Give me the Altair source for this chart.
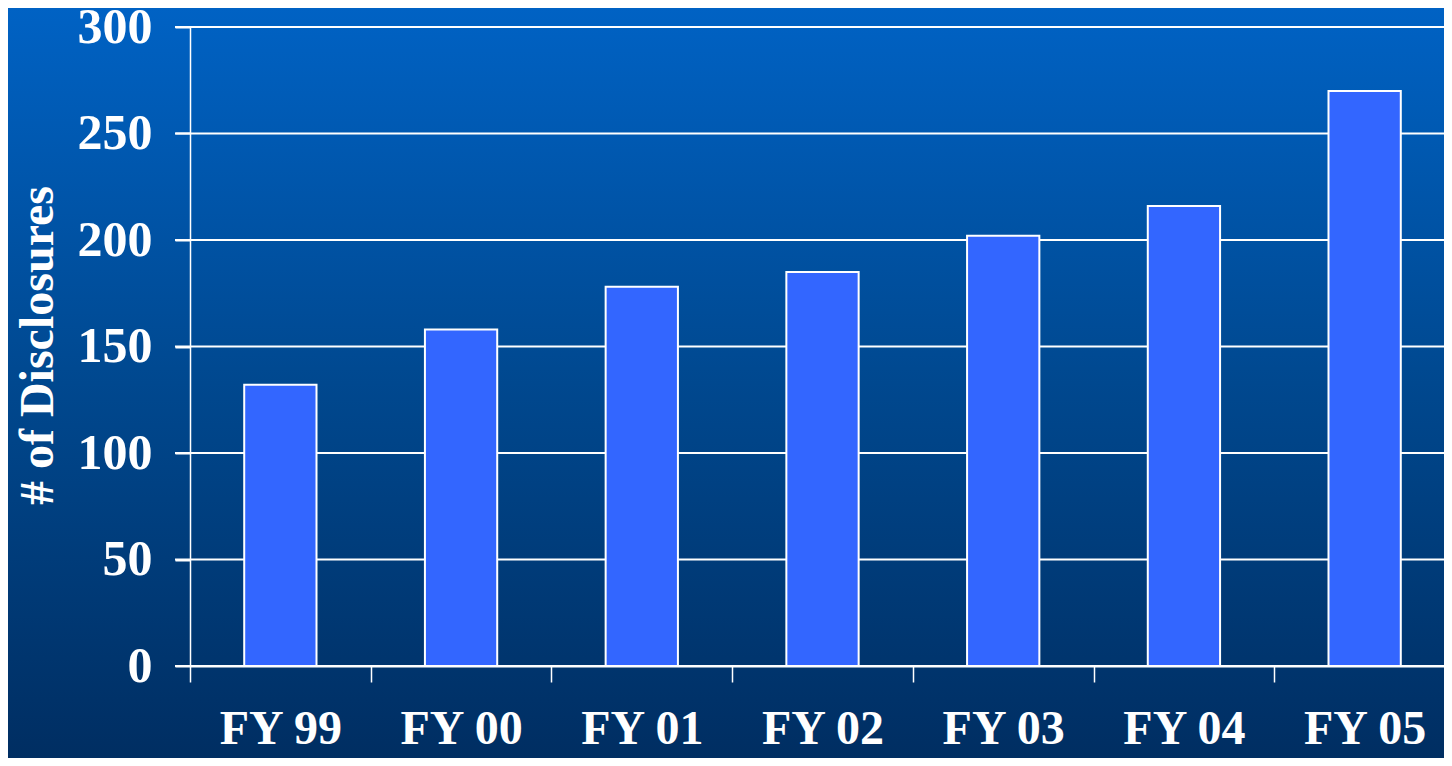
import altair as alt
import pandas as pd

# ---- data ----
categories = ["FY 99", "FY 00", "FY 01", "FY 02", "FY 03", "FY 04", "FY 05"]
disclosures = [132, 158, 178, 185, 202, 216, 270]
y_ticks = [0, 50, 100, 150, 200, 250, 300]

# ---- layout ----
PLOT_W = 1254
PLOT_H = 639
LEFT = 182
TOP = 19
BOTTOM = 92
BAND_RANGE = 1265

FONT = "Liberation Serif"

bars_df = pd.DataFrame({"year": categories, "count": disclosures})
grid_df = pd.DataFrame({"count": y_ticks})
bg_df = pd.DataFrame({"k": [0]})

yscale = alt.Scale(domain=[0, 300], nice=False, zero=True)
yaxis = alt.Axis(
    values=y_ticks,
    grid=False,
    title="# of Disclosures",
    titleFont=FONT,
    titleFontSize=48,
    titleFontWeight="bold",
    titleColor="white",
    titleAngle=270,
    titleX=-138,
    titleY=318,
    titleAlign="center",
    titleBaseline="alphabetic",
    labelFont=FONT,
    labelFontSize=50,
    labelFontWeight="bold",
    labelColor="white",
    labelPadding=23,
    labelFlush=False,
    tickSize=15,
    tickColor="white",
    tickWidth=2,
    domainColor="white",
    domainWidth=1.5,
    zindex=1,
)

xaxis = alt.Axis(
    title=None,
    labelAngle=0,
    labelFont=FONT,
    labelFontSize=48,
    labelFontWeight="bold",
    labelColor="white",
    labelPadding=23,
    tickBand="extent",
    tickSize=16,
    tickColor="white",
    tickWidth=1.5,
    domainColor="white",
    domainWidth=2,
    grid=False,
    zindex=1,
)

background = alt.Chart(bg_df).mark_rect(
    color=alt.Gradient(
        gradient="linear",
        stops=[
            alt.GradientStop(color="#0062C4", offset=0),
            alt.GradientStop(color="#00488F", offset=0.5),
            alt.GradientStop(color="#002E62", offset=1),
        ],
        x1=0, x2=0, y1=0, y2=1,
    )
).encode(
    x=alt.value(-LEFT),
    x2=alt.value(PLOT_W + 20),
    y=alt.value(-TOP),
    y2=alt.value(PLOT_H + BOTTOM),
)

gridlines = alt.Chart(grid_df).mark_rule(color="white", strokeWidth=2).encode(
    y=alt.Y("count:Q", scale=yscale, axis=yaxis),
    x=alt.value(-15),
    x2=alt.value(PLOT_W + 20),
)

bars = alt.Chart(bars_df).mark_bar(
    color="#3366FF",
    stroke="white",
    strokeWidth=2,
    width=alt.RelativeBandSize(0.4),
).encode(
    x=alt.X(
        "year:N",
        sort=categories,
        scale=alt.Scale(range=[0, BAND_RANGE], paddingInner=0, paddingOuter=0),
        axis=xaxis,
    ),
    y=alt.Y("count:Q", scale=yscale, axis=yaxis),
)

chart = (
    alt.layer(background, gridlines, bars)
    .properties(
        width=PLOT_W,
        height=PLOT_H,
        padding={"left": LEFT, "top": TOP, "right": 0, "bottom": BOTTOM},
        autosize="none",
        background="#00488F",
    )
    .configure_view(stroke=None)
)

chart.save("out.html", embed_options={"renderer": "svg", "actions": False})
